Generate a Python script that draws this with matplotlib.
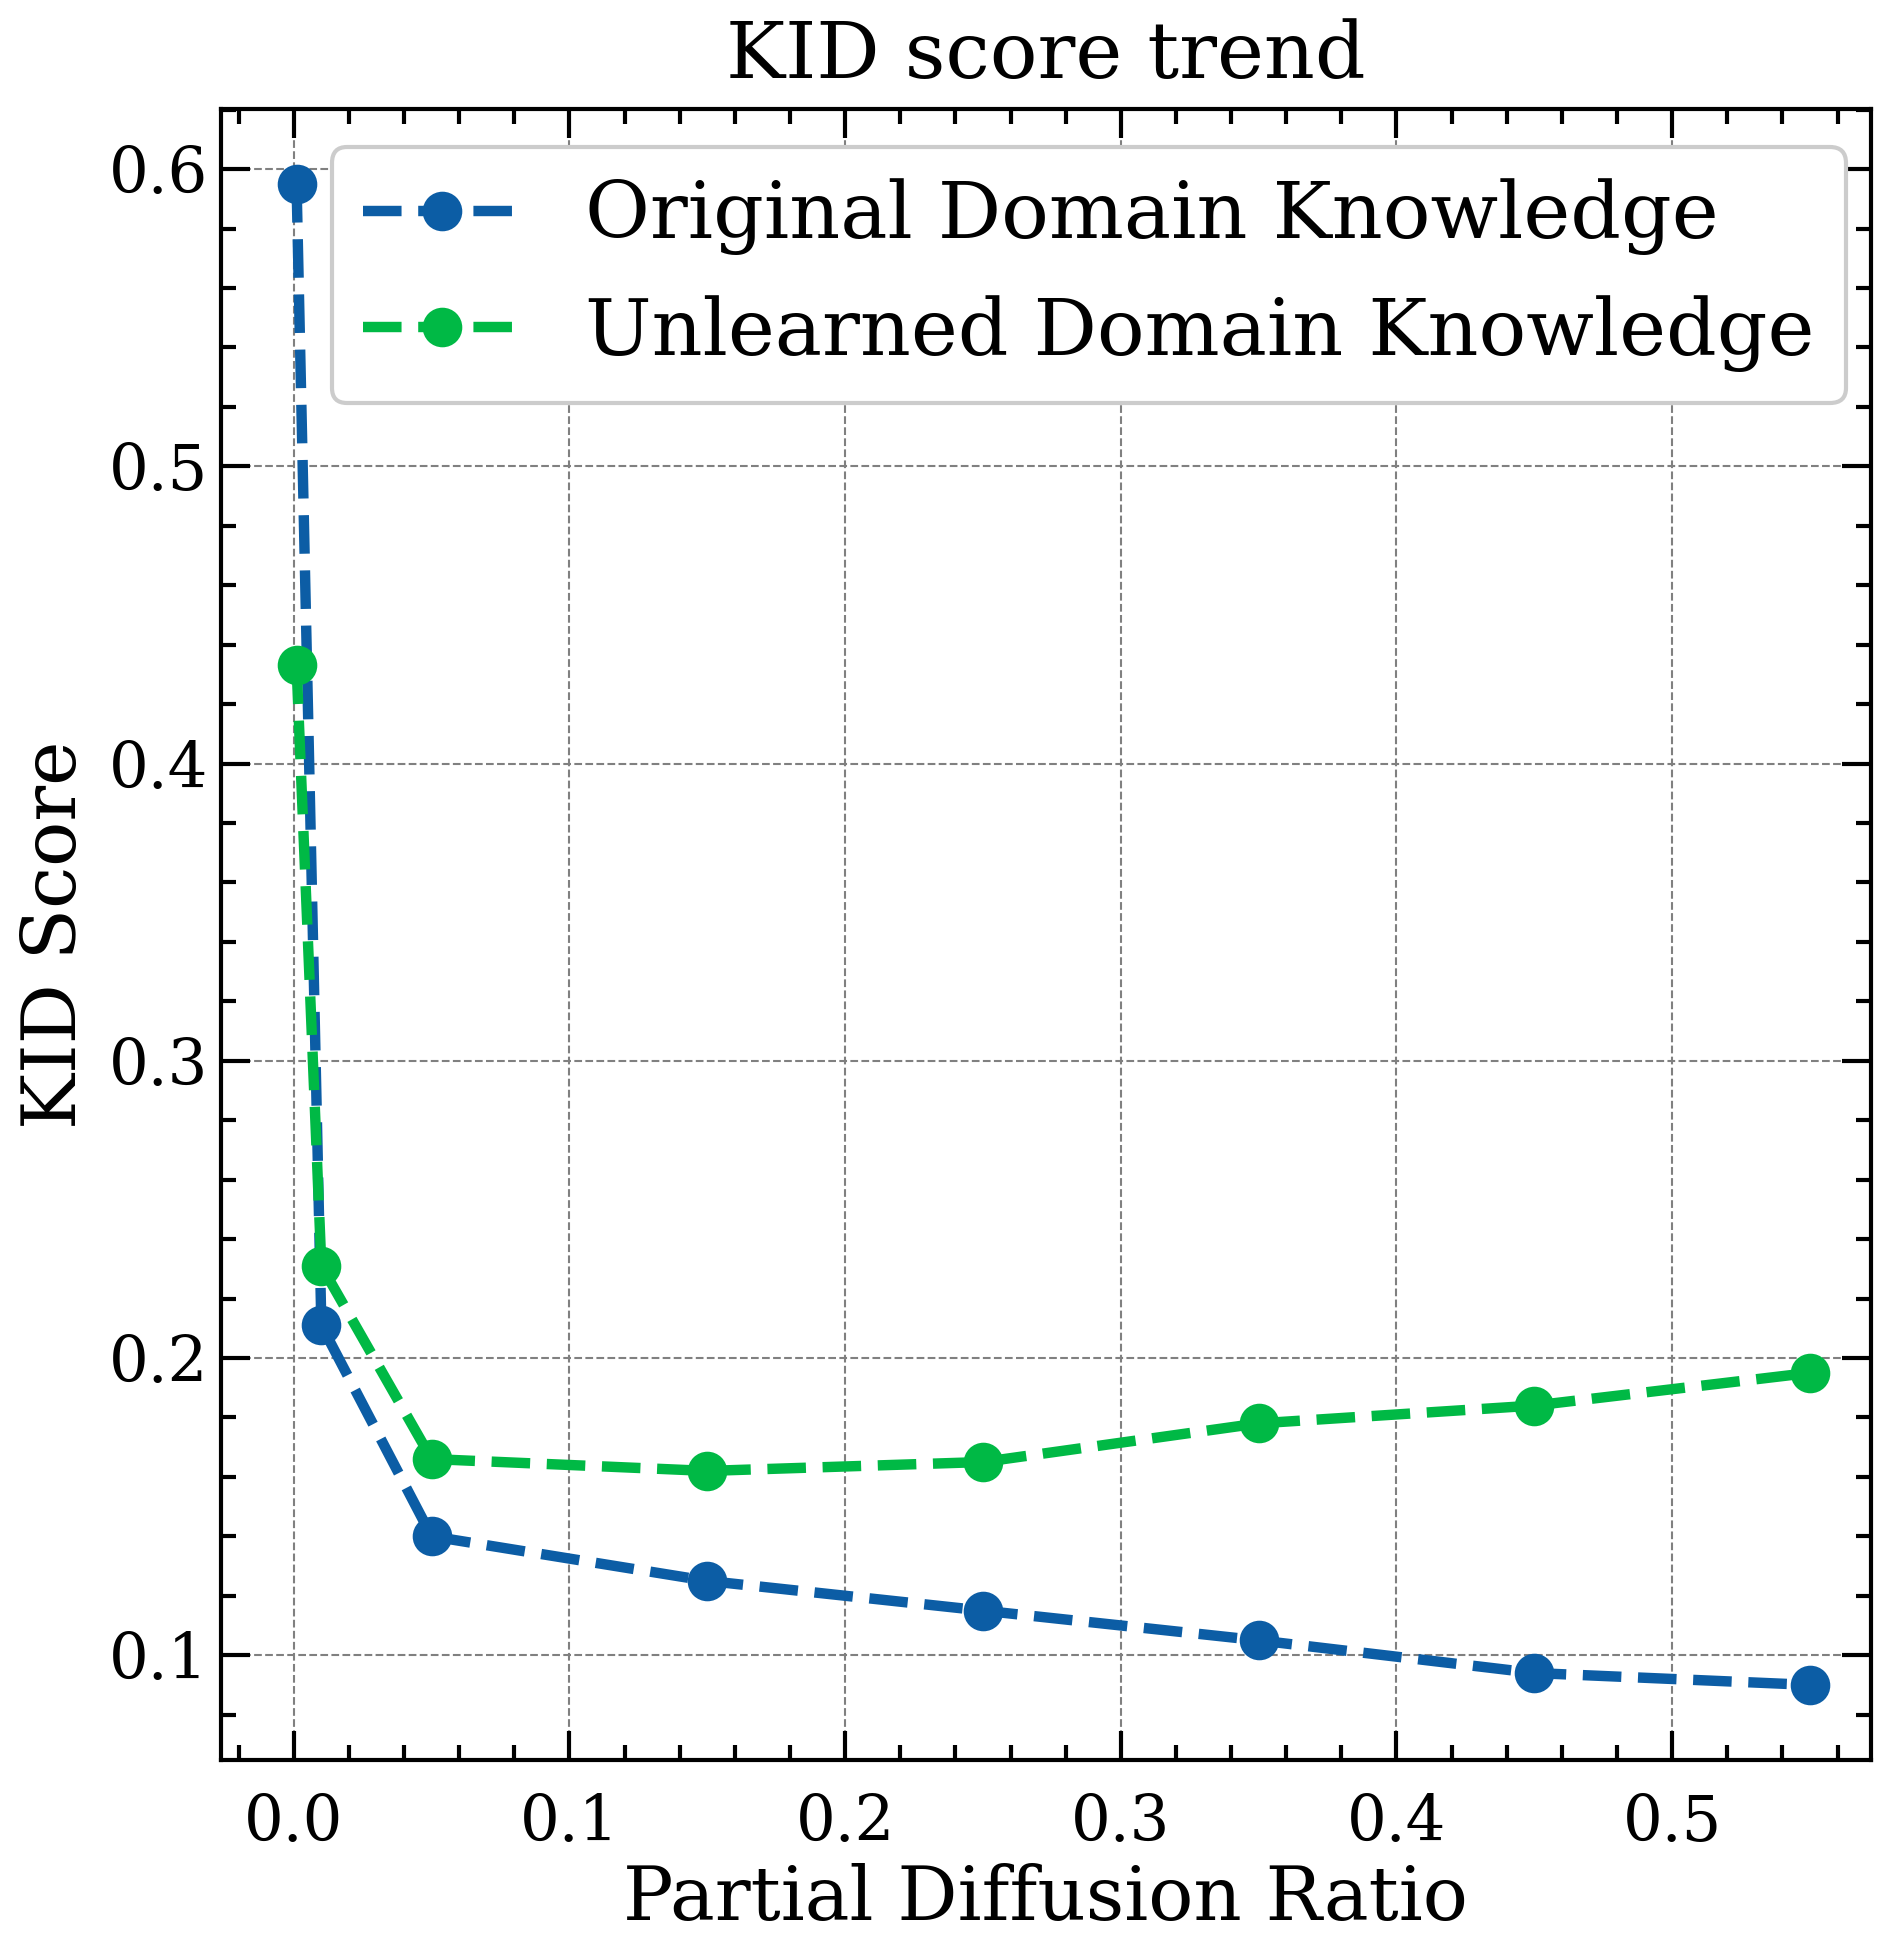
import matplotlib
matplotlib.use('Agg')
import matplotlib.pyplot as plt
from matplotlib.ticker import MultipleLocator

# данные
ratios = [0.001, 0.01, 0.05, 0.15, 0.25, 0.35, 0.45, 0.55]
kid_original = [0.595, 0.211, 0.140, 0.125, 0.115, 0.105, 0.094, 0.090]
kid_unlearned = [0.433, 0.231, 0.166, 0.162, 0.165, 0.178, 0.184, 0.195]

plt.rcParams['font.family'] = 'DejaVu Serif'
plt.rcParams['mathtext.fontset'] = 'dejavuserif'

fig = plt.figure(figsize=(1903 / 300, 1946 / 300), dpi=300)
ax = fig.add_axes([0.116, 0.0956, 0.867, 0.8484])

ax.plot(ratios, kid_original, '--o', color='#0C5DA5', lw=2.5, ms=8.5,
        label='Original Domain Knowledge')
ax.plot(ratios, kid_unlearned, '--o', color='#00B945', lw=2.5, ms=8.5,
        label='Unlearned Domain Knowledge')

ax.set_xlim(-0.0265, 0.572)
ax.xaxis.set_major_locator(MultipleLocator(0.1))
ax.xaxis.set_minor_locator(MultipleLocator(0.02))
ax.yaxis.set_major_locator(MultipleLocator(0.1))
ax.yaxis.set_minor_locator(MultipleLocator(0.02))

ax.tick_params(which='both', direction='in', top=True, right=True, width=1.0)
ax.tick_params(which='major', length=7, labelsize=15)
ax.tick_params(axis='x', which='major', pad=8)
ax.tick_params(axis='y', which='major', pad=3)
ax.tick_params(which='minor', length=3.6)
for s in ax.spines.values():
    s.set_linewidth(1.0)

ax.grid(True, which='major', ls='--', color='gray', lw=0.5)

ax.set_title('KID score trend', fontsize=19, pad=7.5)
ax.set_xlabel('Partial Diffusion Ratio', fontsize=18, labelpad=2)
ax.set_ylabel('KID Score', fontsize=18)

leg = ax.legend(loc='upper right', bbox_to_anchor=(0.985, 0.977), borderaxespad=0,
                fontsize=19, frameon=True, framealpha=1,
                edgecolor='#cccccc', fancybox=True)
leg.get_frame().set_linewidth(1.0)

fig.savefig('out.png', dpi=300)
